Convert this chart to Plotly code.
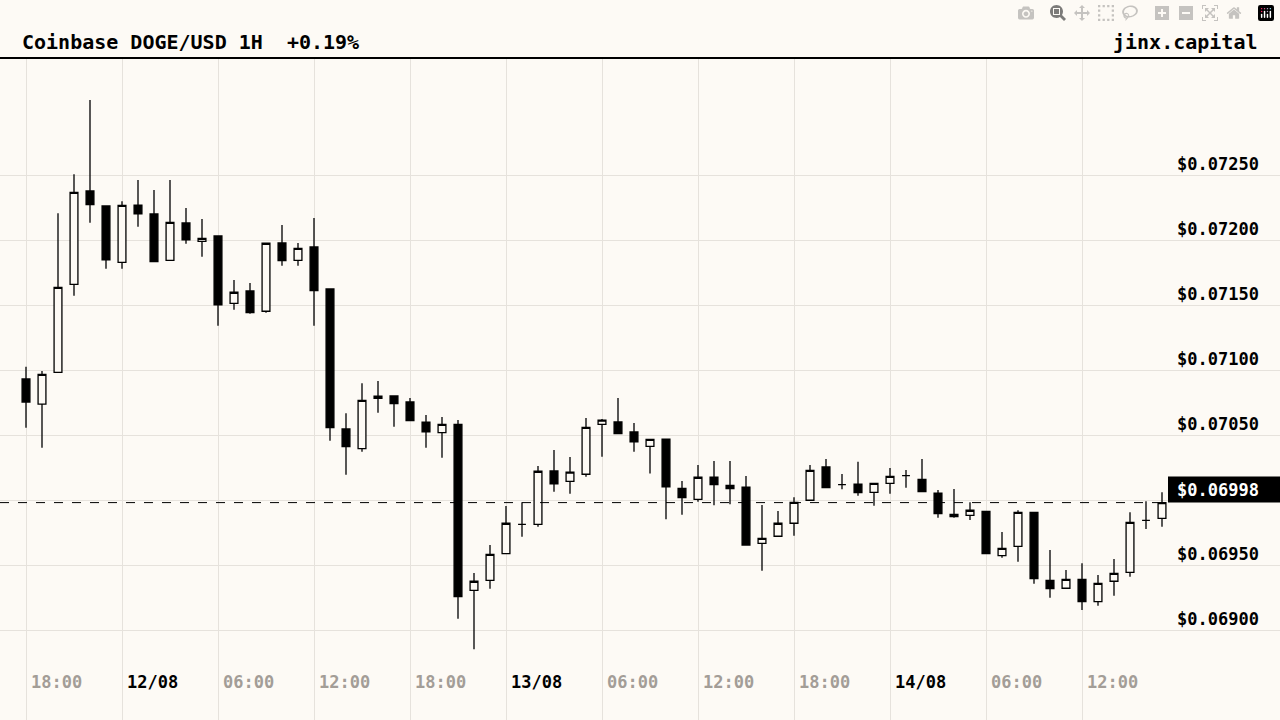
import plotly.graph_objects as go
import pandas as pd

times = pd.date_range("2023-08-11 18:00", periods=72, freq="h")
# prices in units of 1e-5 USD
opens = [7093.1,7073.8,7098.2,7165.9,7237.7,7226.2,7182.8,7226.9,7220.0,7184.4,7213.1,7199.0,7203.1,7151.3,7160.8,7145.2,7197.7,7184.4,7194.6,7162.3,
         7054.6,7039.5,7078.2,7080.0,7075.4,7059.8,7051.8,7058.2,6930.5,6938.2,6958.7,6981.3,6981.3,7022.3,7014.4,7019.8,7058.2,7060.0,7052.3,7041.2,
         7046.9,7009.0,7000.5,7017.5,7011.3,7009.8,6966.7,6972.1,6982.1,6999.8,7025.4,7011.8,7012.1,7005.9,7012.8,7018.7,7015.9,7005.2,6989.0,6988.2,
         6991.3,6957.2,6964.4,6990.5,6938.2,6932.1,6939.0,6921.8,6937.5,6944.4,6984.4,6985.9]
closes = [7075.4,7096.7,7163.6,7236.7,7227.2,7184.8,7226.7,7220.2,7183.3,7213.6,7200.2,7201.3,7150.2,7159.8,7144.1,7197.5,7184.1,7193.6,7161.0,7055.6,
          7041.0,7076.7,7079.8,7074.1,7061.0,7052.5,7058.2,6925.6,6937.5,6958.2,6982.1,6981.3,7022.1,7012.5,7021.5,7055.9,7061.5,7051.0,7044.8,7046.7,
          7010.2,7001.8,7017.5,7011.8,7008.7,6965.4,6970.5,6982.1,6998.2,7022.8,7009.5,7011.8,7005.6,7012.8,7018.2,7018.7,7006.4,6989.5,6987.2,6992.1,
          6958.7,6962.8,6990.5,6939.5,6931.8,6939.0,6921.8,6935.9,6943.6,6982.8,6984.4,6998.0]
highs = [7102.5,7099.2,7220.5,7250.5,7307.7,7226.2,7229.8,7246.2,7238.5,7246.2,7224.6,7216.2,7203.1,7169.2,7166.9,7197.5,7211.5,7197.7,7216.9,7162.3,
         7066.7,7089.8,7091.5,7080.0,7078.5,7065.4,7063.8,7061.5,6943.8,6965.4,6995.4,6998.2,7026.2,7038.5,7033.1,7063.1,7062.3,7078.5,7059.2,7046.7,
         7046.9,7014.6,7026.9,7030.0,7030.0,7018.5,6996.2,6991.5,7002.1,7026.9,7031.5,7020.0,7029.5,7012.8,7024.6,7023.1,7031.5,7007.7,7008.5,6998.2,
         6991.3,6975.4,6992.1,6990.5,6961.5,6946.2,6951.3,6942.3,6954.6,6990.5,6999.0,7005.9]
lows = [7055.6,7040.2,7098.2,7157.2,7213.3,7177.9,7177.9,7210.2,7183.3,7184.4,7197.2,7187.2,7134.1,7146.4,7143.3,7144.1,7180.2,7180.2,7134.1,7045.6,
        7019.5,7037.2,7067.2,7056.4,7061.0,7040.2,7032.5,6908.7,6885.2,6931.8,6958.7,6971.8,6979.5,7006.4,7004.8,7017.9,7033.3,7051.0,7037.2,7020.4,
        6985.2,6988.7,6998.7,6995.9,6996.7,6965.4,6945.6,6972.1,6972.5,6999.8,7009.5,7008.2,7003.3,6995.6,7004.8,7009.5,7006.4,6986.4,6986.4,6984.6,
        6958.7,6955.6,6952.5,6935.6,6924.8,6932.1,6915.4,6918.7,6926.4,6941.0,6977.7,6979.5]

price_ticks = [0.0690, 0.06950, 0.0700, 0.07050, 0.0710, 0.07150, 0.0720, 0.07250]
last_price = 0.06998
x_ticks = ["2023-08-11 18:00","2023-08-12 00:00","2023-08-12 06:00","2023-08-12 12:00","2023-08-12 18:00",
           "2023-08-13 00:00","2023-08-13 06:00","2023-08-13 12:00","2023-08-13 18:00","2023-08-14 00:00",
           "2023-08-14 06:00","2023-08-14 12:00"]
x_labels = ["18:00","12/08","06:00","12:00","18:00","13/08","06:00","12:00","18:00","14/08","06:00","12:00"]

sc = 1e-5
BG = "#fdfaf5"
GRID = "#e6e2dc"
FONT = "DejaVu Sans Mono"

fig = go.Figure(go.Candlestick(
    x=times, open=[v*sc for v in opens], high=[v*sc for v in highs],
    low=[v*sc for v in lows], close=[v*sc for v in closes],
    increasing=dict(line=dict(color="black", width=1.3), fillcolor=BG),
    decreasing=dict(line=dict(color="black", width=1.3), fillcolor="black"),
    whiskerwidth=0, showlegend=False, hoverinfo="skip"))

x0 = pd.Timestamp("2023-08-11 18:00") - pd.Timedelta(minutes=97.5)
x1 = x0 + pd.Timedelta(hours=80)
ytop = 0.0725 + 117/130000
ybot = 0.0725 - 545/130000

fig.update_layout(
    width=1280, height=720, margin=dict(l=0, r=0, t=58, b=0),
    paper_bgcolor=BG, plot_bgcolor=BG,
    xaxis=dict(range=[x0, x1], rangeslider=dict(visible=False), showticklabels=False,
               tickvals=x_ticks, showgrid=True, gridcolor=GRID, gridwidth=1, zeroline=False, showline=False),
    yaxis=dict(range=[ybot, ytop], tickvals=price_ticks, showticklabels=False,
               showgrid=True, gridcolor=GRID, gridwidth=1, zeroline=False, showline=False),
)

ann = []
for v in price_ticks:
    if abs(v - 0.07) < 1e-9:
        continue
    ann.append(dict(x=0.985, xref="paper", y=v, yref="y", yshift=11, text=f"${v:.5f}",
                    showarrow=False, xanchor="right", font=dict(family=FONT, size=17, color="black", weight="bold")))
for t, l in zip(x_ticks, x_labels):
    isdate = "/" in l
    ann.append(dict(x=t, xref="x", y=26/662, yref="paper", xshift=30, text=l, showarrow=False,
                    font=dict(family=FONT, size=17, color="black" if isdate else "#a39d97", weight="bold")))
ann.append(dict(x=0.985, xref="paper", y=last_price, yref="y", yshift=13, text=f"${last_price:.5f}",
                showarrow=False, xanchor="right", font=dict(family=FONT, size=17, color="white", weight="bold")))
ann.append(dict(x=20/1280, xref="paper", y=1 + 30/662, yref="paper", text="Coinbase DOGE/USD 1H  +0.19%",
                showarrow=False, xanchor="left", font=dict(family=FONT, size=20, color="black", weight="bold")))
ann.append(dict(x=1260/1280, xref="paper", y=1 + 30/662, yref="paper", text="jinx.capital",
                showarrow=False, xanchor="right", font=dict(family=FONT, size=20, color="black", weight="bold")))

shapes = [
    dict(type="line", xref="paper", yref="paper", x0=0, x1=1, y0=1, y1=1, line=dict(color="black", width=2)),
    dict(type="line", xref="paper", yref="y", x0=0, x1=1168/1280, y0=last_price, y1=last_price,
         line=dict(color="black", width=1, dash="dash")),
    dict(type="rect", xref="paper", yref="y", x0=1168/1280, x1=1, y0=last_price, y1=last_price + 26/130000,
         fillcolor="black", line=dict(width=0)),
]
fig.update_layout(annotations=ann, shapes=shapes)
fig.write_html("out.html", post_script="document.body.style.margin='0';document.body.style.background='%s';" % BG)
